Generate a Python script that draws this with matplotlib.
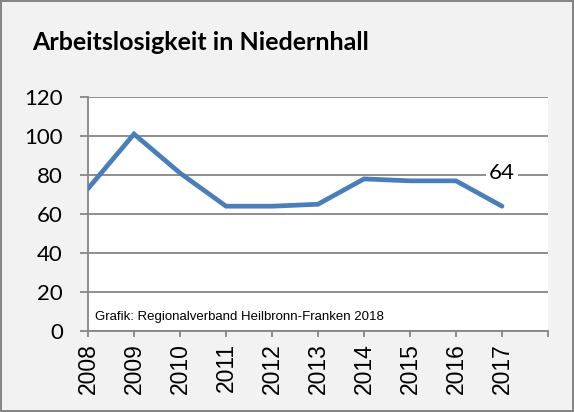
import matplotlib
matplotlib.use('Agg')
import matplotlib.pyplot as plt

# data
years = [2008, 2009, 2010, 2011, 2012, 2013, 2014, 2015, 2016, 2017]
values = [73, 101, 81, 64, 64, 65, 78, 77, 77, 64]
y_ticks = [0, 20, 40, 60, 80, 100, 120]
title = 'Arbeitslosigkeit in Niedernhall'
source = 'Grafik: Regionalverband Heilbronn-Franken 2018'

grey = '#868686'
blue = '#4a7ebb'

fig = plt.figure(figsize=(5.74, 4.12), dpi=100)
fig.patch.set_facecolor('#f2f2f2')
fig.patch.set_edgecolor(grey)
fig.patch.set_linewidth(1.5)

ax = fig.add_axes([88 / 574, 1 - 331 / 412, 460 / 574, 234 / 412])
ax.set_facecolor('white')

ax.plot(years, values, color=blue, lw=3.4, solid_capstyle='round',
        solid_joinstyle='miter', zorder=3)

ax.set_xlim(years[0], years[-1] + 1)
ax.set_ylim(0, 120)
ax.set_xticks(years + [years[-1] + 1])
ax.set_xticklabels([str(y) for y in years] + [''], rotation=90,
                   family='Liberation Sans', fontsize=16.5)
ax.set_yticks(y_ticks)
ax.set_yticklabels([str(v) for v in y_ticks], family='Lato', fontsize=16)

ax.grid(axis='y', color=grey, lw=1.3, zorder=1)
ax.set_axisbelow(True)
for s in ['top', 'right']:
    ax.spines[s].set_visible(False)
for s in ['left', 'bottom']:
    ax.spines[s].set_color(grey)
    ax.spines[s].set_linewidth(1.3)
ax.tick_params(axis='both', color=grey, width=1.3)
ax.tick_params(axis='y', length=6, pad=12)
ax.tick_params(axis='x', length=4.5, pad=4)

# last value label
ax.text(years[-1], values[-1] + 17, str(values[-1]), ha='center', va='center',
        family='Lato', fontsize=16, zorder=4,
        bbox=dict(facecolor='white', edgecolor='none', pad=2))

ax.text(2008.15, 5.6, source, family='Liberation Sans', fontsize=9.5,
        ha='left', va='baseline')

fig.text(32 / 574, 1 - 50 / 412, title, family='Lato', fontweight='bold',
         fontsize=18, ha='left', va='baseline')

fig.savefig('out.png', dpi=100, facecolor=fig.get_facecolor(),
            edgecolor=fig.get_edgecolor())
